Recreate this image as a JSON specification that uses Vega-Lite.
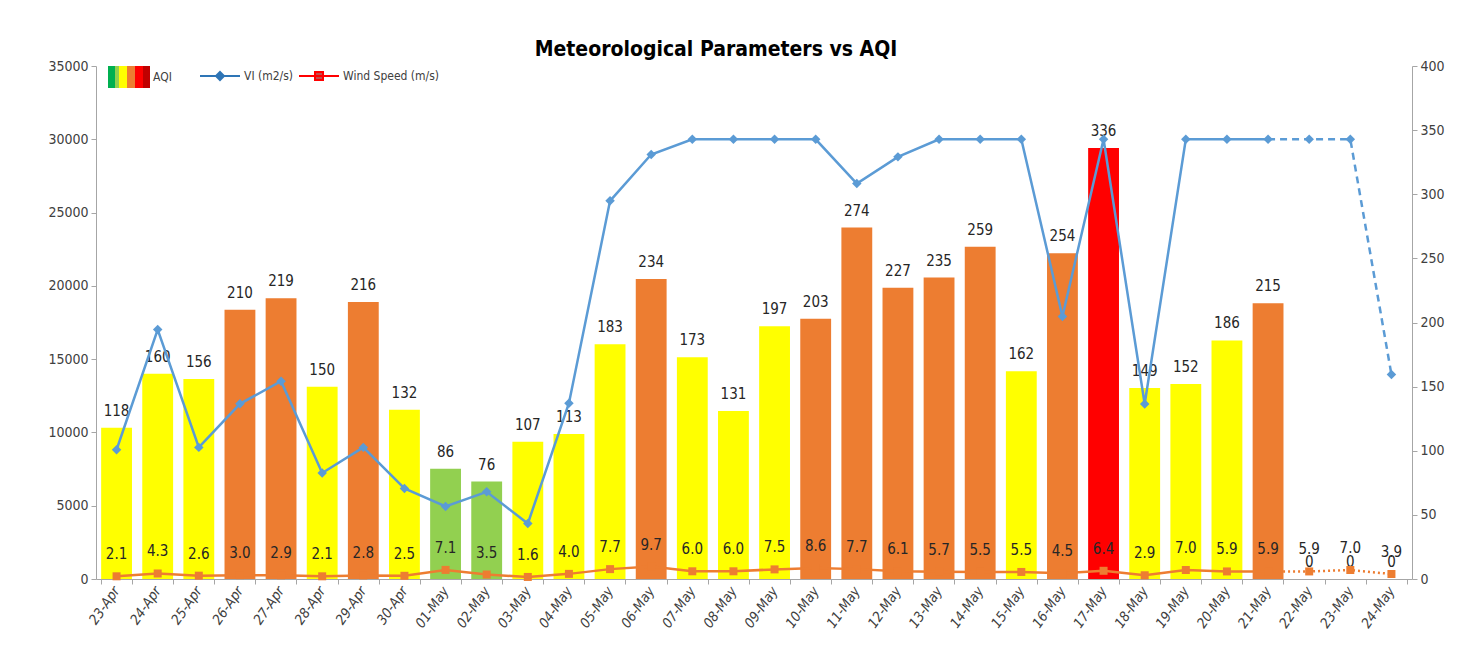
{
  "$schema": "https://vega.github.io/schema/vega-lite/v6.json",
  "width": 1316,
  "height": 513,
  "padding": {"left": 47, "top": 39, "right": 10, "bottom": 5},
  "background": "white",
  "title": {
    "text": "Meteorological Parameters vs AQI",
    "font": "DejaVu Sans Condensed, sans-serif",
    "fontSize": 21,
    "fontWeight": "bold",
    "color": "#000000",
    "anchor": "middle",
    "dx": -38,
    "offset": -5
  },
  "config": {
    "view": {"stroke": null},
    "font": "DejaVu Sans Condensed, sans-serif",
    "axis": {
      "grid": false,
      "domainColor": "#A6A6A6",
      "tickColor": "#A6A6A6",
      "labelColor": "#404040",
      "labelFont": "DejaVu Sans Condensed, sans-serif",
      "labelFontSize": 14,
      "tickSize": 5,
      "labelPadding": 3,
      "title": null
    },
    "legend": {
      "labelFont": "DejaVu Sans Condensed, sans-serif",
      "labelColor": "#404040",
      "labelFontSize": 12,
      "gradientHorizontalMinLength": 20,
      "gradientHorizontalMaxLength": 200
    }
  },
  "data": {
    "values": [
      {"date": "23-Apr", "aqi": 118, "vi": 8820, "ws": 2.1, "fc": false},
      {"date": "24-Apr", "aqi": 160, "vi": 17020, "ws": 4.3, "fc": false},
      {"date": "25-Apr", "aqi": 156, "vi": 8980, "ws": 2.6, "fc": false},
      {"date": "26-Apr", "aqi": 210, "vi": 11950, "ws": 3.0, "fc": false},
      {"date": "27-Apr", "aqi": 219, "vi": 13490, "ws": 2.9, "fc": false},
      {"date": "28-Apr", "aqi": 150, "vi": 7230, "ws": 2.1, "fc": false},
      {"date": "29-Apr", "aqi": 216, "vi": 8980, "ws": 2.8, "fc": false},
      {"date": "30-Apr", "aqi": 132, "vi": 6180, "ws": 2.5, "fc": false},
      {"date": "01-May", "aqi": 86, "vi": 4950, "ws": 7.1, "fc": false},
      {"date": "02-May", "aqi": 76, "vi": 5950, "ws": 3.5, "fc": false},
      {"date": "03-May", "aqi": 107, "vi": 3780, "ws": 1.6, "fc": false},
      {"date": "04-May", "aqi": 113, "vi": 11990, "ws": 4.0, "fc": false},
      {"date": "05-May", "aqi": 183, "vi": 25800, "ws": 7.7, "fc": false},
      {"date": "06-May", "aqi": 234, "vi": 28960, "ws": 9.7, "fc": false},
      {"date": "07-May", "aqi": 173, "vi": 30000, "ws": 6.0, "fc": false},
      {"date": "08-May", "aqi": 131, "vi": 30000, "ws": 6.0, "fc": false},
      {"date": "09-May", "aqi": 197, "vi": 30000, "ws": 7.5, "fc": false},
      {"date": "10-May", "aqi": 203, "vi": 30000, "ws": 8.6, "fc": false},
      {"date": "11-May", "aqi": 274, "vi": 26980, "ws": 7.7, "fc": false},
      {"date": "12-May", "aqi": 227, "vi": 28800, "ws": 6.1, "fc": false},
      {"date": "13-May", "aqi": 235, "vi": 30000, "ws": 5.7, "fc": false},
      {"date": "14-May", "aqi": 259, "vi": 30000, "ws": 5.5, "fc": false},
      {"date": "15-May", "aqi": 162, "vi": 30000, "ws": 5.5, "fc": false},
      {"date": "16-May", "aqi": 254, "vi": 17910, "ws": 4.5, "fc": false},
      {"date": "17-May", "aqi": 336, "vi": 30000, "ws": 6.4, "fc": false},
      {"date": "18-May", "aqi": 149, "vi": 11940, "ws": 2.9, "fc": false},
      {"date": "19-May", "aqi": 152, "vi": 30000, "ws": 7.0, "fc": false},
      {"date": "20-May", "aqi": 186, "vi": 30000, "ws": 5.9, "fc": false},
      {"date": "21-May", "aqi": 215, "vi": 30000, "ws": 5.9, "fc": false},
      {"date": "22-May", "aqi": 0, "vi": 30000, "ws": 5.9, "fc": true},
      {"date": "23-May", "aqi": 0, "vi": 30000, "ws": 7.0, "fc": true},
      {"date": "24-May", "aqi": 0, "vi": 13950, "ws": 3.9, "fc": true}
    ]
  },
  "encoding": {
    "x": {
      "field": "date",
      "type": "ordinal",
      "sort": null,
      "scale": {"paddingInner": 0.25, "paddingOuter": 0.125},
      "axis": {
        "labelAngle": -55,
        "tickBand": "extent",
        "labelFontStyle": "italic",
        "labelPadding": 4,
        "title": null
      }
    }
  },
  "layer": [
    {
      "layer": [
        {
          "transform": [{"filter": "!datum.fc"}],
          "mark": {"type": "bar"},
          "encoding": {
            "y": {
              "field": "aqi",
              "type": "quantitative",
              "scale": {"domain": [0, 400]},
              "axis": {"orient": "right", "values": [0, 50, 100, 150, 200, 250, 300, 350, 400], "format": "d", "title": null}
            },
            "fill": {
              "field": "aqi",
              "type": "quantitative",
              "scale": {
                "type": "threshold",
                "domain": [51, 101, 201, 301, 401],
                "range": ["#00B050", "#92D050", "#FFFF00", "#ED7D31", "#FF0000", "#C00000"]
              },
              "legend": {
                "type": "gradient",
                "orient": "none",
                "legendX": 12,
                "legendY": 0,
                "direction": "horizontal",
                "title": "AQI",
                "titleOrient": "right",
                "titleFontWeight": "normal",
                "titleFontSize": 12,
                "titleColor": "#404040",
                "titleFont": "DejaVu Sans Condensed, sans-serif",
                "titlePadding": 3,
                "titleBaseline": "middle",
                "gradientLength": 42,
                "gradientThickness": 22,
                "gradientStrokeWidth": 0,
                "labelExpr": "''",
                "labelFontSize": 1
              }
            }
          }
        },
        {
          "mark": {"type": "text", "dy": -17, "baseline": "middle", "align": "center", "fontSize": 15, "color": "#262626"},
          "encoding": {
            "y": {"field": "aqi", "type": "quantitative", "scale": {"domain": [0, 400]}},
            "text": {"field": "aqi", "type": "quantitative", "format": "d"}
          }
        },
        {
          "transform": [{"filter": "!datum.fc"}],
          "mark": {"type": "line", "color": "#ED7D31", "strokeWidth": 2.5},
          "encoding": {
            "y": {"field": "ws", "type": "quantitative", "scale": {"domain": [0, 400]}}
          }
        },
        {
          "transform": [{"filter": "datum.fc || datum.date == '21-May'"}],
          "mark": {"type": "line", "color": "#ED7D31", "strokeWidth": 2.5, "strokeDash": [2, 3]},
          "encoding": {
            "y": {"field": "ws", "type": "quantitative", "scale": {"domain": [0, 400]}}
          }
        },
        {
          "mark": {"type": "point", "shape": "square", "filled": true, "size": 64, "color": "#ED7D31", "strokeWidth": 0, "opacity": 1},
          "encoding": {
            "y": {"field": "ws", "type": "quantitative", "scale": {"domain": [0, 400]}}
          }
        },
        {
          "mark": {"type": "text", "dy": -22, "baseline": "middle", "align": "center", "fontSize": 15, "color": "#262626"},
          "encoding": {
            "y": {"field": "ws", "type": "quantitative", "scale": {"domain": [0, 400]}},
            "text": {"field": "ws", "type": "quantitative", "format": ".1f"}
          }
        }
      ]
    },
    {
      "layer": [
        {
          "transform": [{"filter": "!datum.fc"}],
          "mark": {"type": "line", "color": "#5B9BD5", "strokeWidth": 2.5},
          "encoding": {
            "y": {
              "field": "vi",
              "type": "quantitative",
              "scale": {"domain": [0, 35000]},
              "axis": {"orient": "left", "values": [0, 5000, 10000, 15000, 20000, 25000, 30000, 35000], "format": "d", "title": null}
            }
          }
        },
        {
          "transform": [{"filter": "datum.fc || datum.date == '21-May'"}],
          "mark": {"type": "line", "color": "#5B9BD5", "strokeWidth": 2.5, "strokeDash": [7, 5]},
          "encoding": {
            "y": {"field": "vi", "type": "quantitative", "scale": {"domain": [0, 35000]}}
          }
        },
        {
          "mark": {"type": "point", "shape": "diamond", "filled": true, "size": 90, "color": "#5B9BD5", "strokeWidth": 0, "opacity": 1},
          "encoding": {
            "y": {"field": "vi", "type": "quantitative", "scale": {"domain": [0, 35000]}}
          }
        },
        {
          "transform": [{"filter": "false"}],
          "mark": {"type": "point", "filled": true, "size": 1600, "strokeWidth": 2, "opacity": 1},
          "encoding": {
            "color": {
              "field": "series",
              "type": "nominal",
              "scale": {"domain": ["VI (m2/s)", "Wind Speed (m/s)"], "range": ["#2E75B6", "#C0504D"]},
              "legend": {
                "orient": "none",
                "legendX": 103,
                "legendY": -11,
                "direction": "horizontal",
                "title": null,
                "symbolSize": 1600,
                "symbolStrokeWidth": 2,
                "symbolOpacity": 1,
                "labelOffset": 3,
                "columnPadding": 1
              }
            },
            "stroke": {
              "field": "series",
              "type": "nominal",
              "scale": {"domain": ["VI (m2/s)", "Wind Speed (m/s)"], "range": ["#2E75B6", "#FF0000"]},
              "legend": {
                "orient": "none",
                "legendX": 103,
                "legendY": -11,
                "direction": "horizontal",
                "title": null,
                "symbolSize": 1600,
                "symbolStrokeWidth": 2,
                "symbolOpacity": 1,
                "labelOffset": 3,
                "columnPadding": 1
              }
            },
            "shape": {
              "field": "series",
              "type": "nominal",
              "scale": {"domain": ["VI (m2/s)", "Wind Speed (m/s)"], "range": ["M-1,0H1M0,-0.2L0.2,0L0,0.2L-0.2,0Z", "M-1,0H1M-0.2,-0.2H0.2V0.2H-0.2Z"]},
              "legend": {
                "orient": "none",
                "legendX": 103,
                "legendY": -11,
                "direction": "horizontal",
                "title": null,
                "symbolSize": 1600,
                "symbolStrokeWidth": 2,
                "symbolOpacity": 1,
                "labelOffset": 3,
                "columnPadding": 1
              }
            }
          }
        }
      ]
    }
  ],
  "resolve": {"scale": {"y": "independent"}}
}
